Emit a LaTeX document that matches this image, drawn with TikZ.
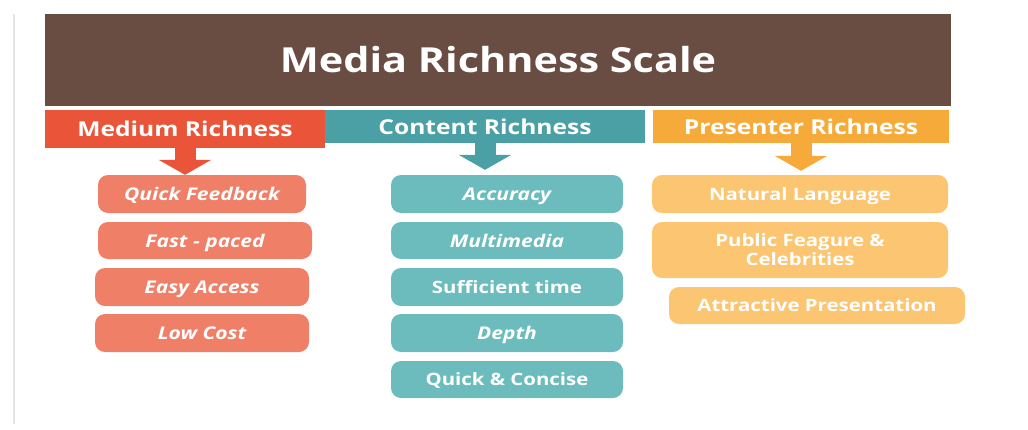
\documentclass[tikz,border=0pt]{standalone}
\usepackage{fontspec}
\setmainfont{Open Sans}[FakeStretch=1.2]
\usetikzlibrary{arrows.meta}

\definecolor{titlebrown}{HTML}{6A4D42}
\definecolor{medred}{HTML}{EA5539}
\definecolor{conteal}{HTML}{4BA0A6}
\definecolor{preorange}{HTML}{F6AA3A}
\definecolor{medlight}{HTML}{F07F68}
\definecolor{conlight}{HTML}{6CBCBD}
\definecolor{prelight}{HTML}{FBC571}

\begin{document}
\begin{tikzpicture}[x=1pt, y=-1pt,
	head/.style = {rectangle, inner sep=0pt, text=white, font=\fontsize{20.5}{22}\selectfont\bfseries},
	item/.style = {rectangle, rounded corners=10pt, inner sep=0pt, text=white, text depth=0pt, minimum height=38pt, align=center, font=\fontsize{17}{19}\selectfont\bfseries},
	slant/.style = {item, font=\fontsize{17.5}{19}\selectfont\bfseries\itshape},
	down/.style = {line width=21pt, -{Triangle[width=52pt, length=15pt]}}]
		\useasboundingbox (0,0) rectangle (1028,429);
		\draw[gray!20, line width=1.5pt] (14,14) -- (14,424);
		% Otsikko
		\node[fill=titlebrown, minimum width=906pt, minimum height=92pt, text=white, font=\fontsize{34.5}{38}\selectfont\bfseries] (title) at (498,60) {Media Richness Scale};
		% Sarakkeet
		\node[head, fill=medred, minimum width=280pt, minimum height=38pt] (medium) at (185,129) {Medium Richness};
		\node[head, fill=conteal, minimum width=320pt, minimum height=33pt] (content) at (485,126.5) {Content Richness};
		\node[head, fill=preorange, minimum width=296pt, minimum height=33pt] (presenter) at (801,126.5) {Presenter Richness};
		% Medium
		\node[slant, fill=medlight, minimum width=208pt] (qf) at (202,194) {Quick Feedback};
		\node[slant, fill=medlight, minimum width=214pt, minimum height=37pt] (fp) at (205,240.5) {Fast - paced};
		\node[slant, fill=medlight, minimum width=214pt] (ea) at (202,287) {Easy Access};
		\node[slant, fill=medlight, minimum width=214pt] (lc) at (202,333) {Low Cost};
		% Content
		\node[slant, fill=conlight, minimum width=232pt] (acc) at (507,194) {Accuracy};
		\node[slant, fill=conlight, minimum width=232pt, minimum height=37pt] (mm) at (507,240.5) {Multimedia};
		\node[item, fill=conlight, minimum width=232pt] (st) at (507,287) {Sufficient time};
		\node[slant, fill=conlight, minimum width=232pt] (dp) at (507,333) {Depth};
		\node[item, fill=conlight, minimum width=232pt, minimum height=37pt] (qc) at (507,379.5) {Quick \& Concise};
		% Presenter
		\node[item, fill=prelight, minimum width=296pt] (nl) at (800,194) {Natural Language};
		\node[item, fill=prelight, minimum width=296pt, minimum height=56pt] (pf) at (800,250) {Public Feagure \&\\Celebrities};
		\node[item, fill=prelight, minimum width=296pt, minimum height=37pt] (ap) at (817,305.5) {Attractive Presentation};
		% Nuolet
		\draw[down, medred] (medium.south) -- (medium.south |- qf.north);
		\draw[down, conteal, shorten >=5pt] (content.south) -- (content.south |- acc.north);
		\draw[down, preorange, shorten >=4pt] (presenter.south) -- (presenter.south |- nl.north);
\end{tikzpicture}
\end{document}
